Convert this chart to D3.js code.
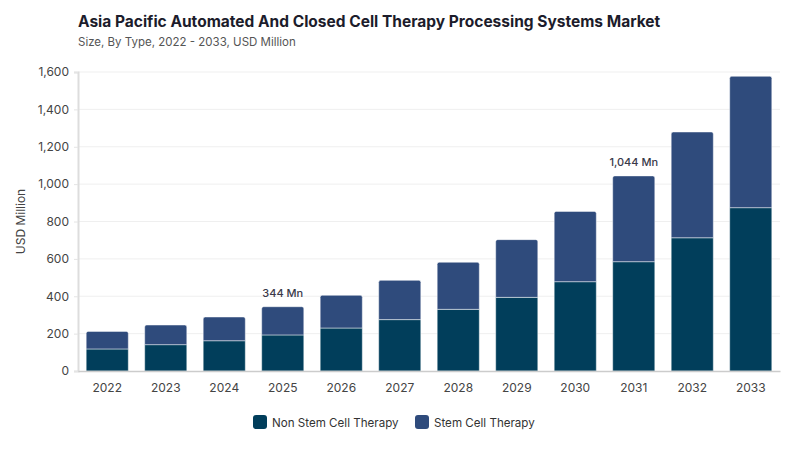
<!DOCTYPE html>
<html lang="en">
<head>
  <meta charset="UTF-8">
  <title>Asia Pacific Automated And Closed Cell Therapy Processing Systems Market</title>
  <style>
    * {
      box-sizing: border-box;
    }

    body {
      margin: 0;
      background-color: #fff;
      font-family: Inter, "Open Sans", sans-serif;
    }
  </style>
</head>
<body>
<div class="chart"></div>
</body>
<script src="https://d3js.org/d3.v7.min.js"></script>
<script>
  let years = ['2022', '2023', '2024', '2025', '2026', '2027', '2028', '2029', '2030', '2031', '2032', '2033']
  let nonStem = [118, 141, 162, 193, 230, 275, 330, 394, 478, 585, 713, 874]
  let stem = [94, 105, 127, 151, 175, 210, 252, 309, 376, 459, 566, 703]
  let seriesNames = ['Non Stem Cell Therapy', 'Stem Cell Therapy']
  let yTicks = [0, 200, 400, 600, 800, 1000, 1200, 1400, 1600]
  let labelled = {'2025': '344 Mn', '2031': '1,044 Mn'}

  let color = ['#013e5b', '#2f4b7c']

  let width = 800
  let height = 450
  let margin = {top: 72, right: 20, bottom: 79, left: 78}

  let svg = d3.select('.chart').append('svg')
    .attr('width', width)
    .attr('height', height)

  let x = d3.scaleBand()
    .domain(years)
    .range([margin.left, width - margin.right])
    .paddingInner(0.28)
    .paddingOuter(0.14)

  let y = d3.scaleLinear()
    .domain([0, 1600])
    .range([height - margin.bottom, margin.top])

  // title
  svg.append('text')
    .attr('x', 78)
    .attr('y', 27)
    .attr('font-size', '15.5px')
    .attr('font-weight', 700)
    .attr('fill', '#1c1c2b')
    .text('Asia Pacific Automated And Closed Cell Therapy Processing Systems Market')

  svg.append('text')
    .attr('x', 78)
    .attr('y', 46)
    .attr('font-size', '11.5px')
    .attr('fill', '#555')
    .text('Size, By Type, 2022 - 2033, USD Million')

  // grid
  svg.append('g')
    .selectAll('line')
    .data(yTicks.filter(d => d > 0))
    .enter()
    .append('line')
    .attr('x1', margin.left)
    .attr('x2', width - margin.right)
    .attr('y1', d => y(d))
    .attr('y2', d => y(d))
    .attr('stroke', '#efefef')
    .attr('stroke-width', 1)

  // y axis
  let yAxis = svg.append('g')
    .attr('transform', 'translate(' + margin.left + ',0)')
    .call(d3.axisLeft(y).tickValues(yTicks).tickSize(4).tickPadding(5).tickFormat(d3.format(',')))
  yAxis.select('.domain').attr('stroke', '#ddd').attr('stroke-width', 2)
  yAxis.selectAll('.tick line').attr('stroke', '#e4e4e4')
  yAxis.selectAll('.tick text')
    .attr('font-size', '12px')
    .attr('font-family', 'Inter, sans-serif')
    .attr('fill', '#444')

  svg.append('text')
    .attr('transform', 'translate(25,' + (margin.top + (height - margin.bottom - margin.top) / 2) + ') rotate(-90)')
    .attr('text-anchor', 'middle')
    .attr('font-size', '12px')
    .attr('fill', '#444')
    .text('USD Million')

  // stacked bars
  let rows = years.map((yr, i) => ({year: yr, nonStem: nonStem[i], stem: stem[i]}))
  let stack = d3.stack().keys(['nonStem', 'stem'])(rows)

  let barPath = (x0, y0, w, h, r) => {
    return 'M' + x0 + ',' + (y0 + h) +
      'V' + (y0 + r) +
      'Q' + x0 + ',' + y0 + ' ' + (x0 + r) + ',' + y0 +
      'H' + (x0 + w - r) +
      'Q' + (x0 + w) + ',' + y0 + ' ' + (x0 + w) + ',' + (y0 + r) +
      'V' + (y0 + h) + 'Z'
  }

  svg.append('g')
    .selectAll('g')
    .data(stack)
    .enter()
    .append('g')
    .attr('fill', (d, i) => color[i])
    .selectAll('path')
    .data((d, i) => d.map(p => ({p: p, top: i === stack.length - 1})))
    .enter()
    .append('path')
    .attr('d', d => {
      let x0 = x(d.p.data.year)
      let y0 = y(d.p[1])
      let h = y(d.p[0]) - y(d.p[1])
      return barPath(x0, y0, x.bandwidth(), h, d.top ? 2 : 0)
    })
    .attr('stroke', '#fff')
    .attr('stroke-opacity', 0.6)
    .attr('stroke-width', 0.8)

  // x axis
  let xAxis = svg.append('g')
    .attr('transform', 'translate(0,' + y(0) + ')')
    .call(d3.axisBottom(x).tickSize(0).tickPadding(12))
  xAxis.select('.domain').attr('stroke', '#ccc').attr('stroke-width', 1.5)
  xAxis.selectAll('.tick text')
    .attr('font-size', '12px')
    .attr('font-family', 'Inter, sans-serif')
    .attr('fill', '#444')

  // total labels
  svg.append('g')
    .selectAll('text')
    .data(rows.filter(d => labelled[d.year]))
    .enter()
    .append('text')
    .attr('x', d => x(d.year) + x.bandwidth() / 2)
    .attr('y', d => y(d.nonStem + d.stem) - 10)
    .attr('text-anchor', 'middle')
    .attr('font-size', '11px')
    .attr('font-weight', 500)
    .attr('fill', '#3a3a4a')
    .text(d => labelled[d.year])

  // legend
  let legendX = [253, 415]
  let legend = svg.append('g')
    .selectAll('g')
    .data(seriesNames)
    .enter()
    .append('g')
    .attr('transform', (d, i) => 'translate(' + legendX[i] + ',415)')
  legend.append('rect')
    .attr('width', 14)
    .attr('height', 14)
    .attr('rx', 3)
    .attr('fill', (d, i) => color[i])
  legend.append('text')
    .attr('x', 19)
    .attr('y', 11.5)
    .attr('font-size', '11.6px')
    .attr('fill', '#333')
    .text(d => d)
</script>
</html>
